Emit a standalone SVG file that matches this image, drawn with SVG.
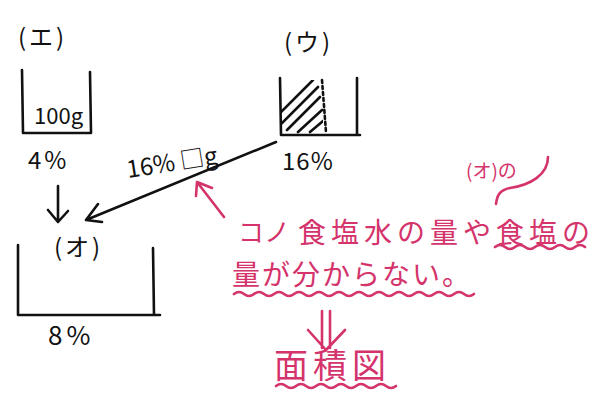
<svg xmlns="http://www.w3.org/2000/svg" width="604" height="394" viewBox="0 0 604 394">
<style>
.k{fill:none;stroke:#111;stroke-width:2.6;stroke-linecap:round;stroke-linejoin:round}
.p{fill:none;stroke:#d4336b;stroke-width:2.6;stroke-linecap:round;stroke-linejoin:round}
.kt{font-family:"Noto Sans CJK JP","Liberation Sans",sans-serif;fill:#111;font-size:24px;letter-spacing:3px}
.pt{font-family:"Noto Sans CJK JP","Liberation Sans",sans-serif;fill:#d4336b}
</style>
<defs>
<clipPath id="hc"><rect x="281" y="80" width="42" height="54"/></clipPath>
</defs>
<rect width="604" height="394" fill="#fff"/>
<g id="beakerE">
<text class="kt" x="18" y="46">(エ)</text>
<path class="k" d="M22,70 L23,133 L91,133 L90,72"/>
<text class="kt" x="34" y="124" style="font-size:22px;letter-spacing:0px">100g</text>
<text class="kt" x="28" y="169">4%</text>
</g>
<g id="beakerU">
<text class="kt" x="284" y="51">(ウ)</text>
<path class="k" d="M280,78 L281,135 L360,135 M357,78 L357,135"/>
<g clip-path="url(#hc)" class="k" stroke-width="2">
<path d="M281,112 L313,80 M281,124 L318,87 M287,130 L320,97 M298,132 L322,110 M310,132 L323,121"/>
</g>
<path class="k" stroke-width="2" stroke-dasharray="3 3" d="M322,80 L326,132"/>
<text class="kt" x="282" y="170" style="letter-spacing:1px">16%</text>
</g>
<g id="beakerO">
<text class="kt" x="54" y="256">(オ)</text>
<path class="k" d="M18,245 L18,315 L160,315 M153,248 L154,315"/>
<text class="kt" x="48" y="345" style="font-size:26px;letter-spacing:4px">8%</text>
</g>
<g id="connectors">
<path class="k" d="M58,186 L58,222 M48,210 L58,222 L68,211"/>
<path class="k" d="M276,142 L86,220 M98,204 L86,220 L102,222"/>
<text class="kt" transform="rotate(-9 128 178)" x="128" y="178" style="letter-spacing:0px">16% □g</text>
<path class="p" d="M224,217 L197,182 M196,196 L197,182 L212,188"/>
<path class="p" d="M322,311 L322,348 M330,311 L330,348 M308,330 L326,350 L345,330"/>
<path class="p" d="M548,157 C548,175 530,185 510,188 C500,190 497,195 496,204"/>
</g>
<g id="note">
<text class="pt" x="238" y="242" font-size="26">コノ</text>
<text class="pt" x="298" y="243" font-size="28" letter-spacing="5">食塩水の量や食塩の</text>
<text class="pt" x="466" y="178" font-size="19">(オ)の</text>
<path class="p" d="M495,247 q5,-4 10,0 t10,0 t10,0 t10,0 t10,0 t10,0 t10,0 t10,0 t10,0"/>
<text class="pt" x="232" y="285" font-size="28" letter-spacing="2">量が分からない。</text>
<path class="p" d="M234,294 q5,-4 10,0 t10,0 t10,0 t10,0 t10,0 t10,0 t10,0 t10,0 t10,0 t10,0 t10,0 t10,0 t10,0 t10,0 t10,0 t10,0 t10,0 t10,0 t10,0 t10,0 t10,0 t10,0 t10,0 t10,0"/>
<text class="pt" x="274" y="378" font-size="34" letter-spacing="5">面積図</text>
<path class="p" d="M276,386 q5,-4 10,0 t10,0 t10,0 t10,0 t10,0 t10,0 t10,0 t10,0 t10,0 t10,0 t10,0 t10,0"/>
</g>
</svg>
